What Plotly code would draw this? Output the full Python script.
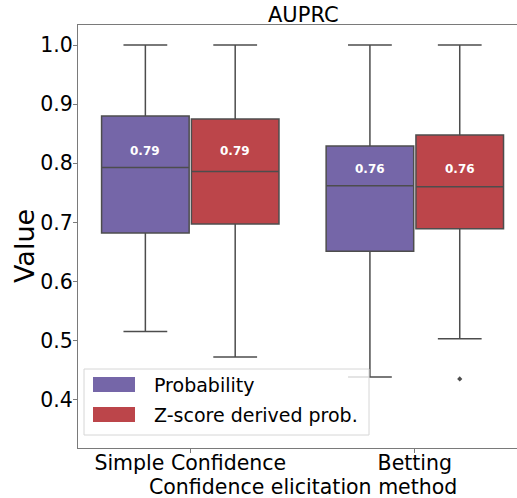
import plotly.graph_objects as go

# ---- data -------------------------------------------------------------
methods = ["Simple Confidence", "Betting"]
series = ["Probability", "Z-score derived prob."]
colors = ["#7566A8", "#BC454A"]

prob_lower = [0.515, 0.438]
prob_q1 = [0.682, 0.651]
prob_median = [0.793, 0.762]
prob_q3 = [0.880, 0.829]
prob_upper = [1.0, 1.0]

z_lower = [0.472, 0.503]
z_q1 = [0.697, 0.689]
z_median = [0.786, 0.760]
z_q3 = [0.875, 0.848]
z_upper = [1.0, 1.0]
z_outliers = [[], [0.435]]

y_ticks = [0.4, 0.5, 0.6, 0.7, 0.8, 0.9, 1.0]

# ---- layout constants (pixels) -----------------------------------------
W, H = 517, 498
L, R, T, B = 78, 0, 25, 50
BOX_W = 0.39
OFFSETS = [-0.2, 0.2]
LINE = "#4d4d4d"
AXIS = "#7a7a7a"
FONT = "DejaVu Sans"
TICK_SIZE = 20.5

def px_x(p):
    return (p - L) / (W - L - R)

def px_y(p):
    return (H - B - p) / (H - T - B)

stats = [
    dict(lower=prob_lower, q1=prob_q1, med=prob_median, q3=prob_q3, upper=prob_upper),
    dict(lower=z_lower, q1=z_q1, med=z_median, q3=z_q3, upper=z_upper),
]

fig = go.Figure()
for j, (name, s) in enumerate(zip(series, stats)):
    fig.add_trace(go.Box(
        name=name,
        x=[i + OFFSETS[j] for i in range(len(methods))],
        q1=s["q1"], median=s["med"], q3=s["q3"],
        lowerfence=s["lower"], upperfence=s["upper"],
        width=BOX_W, whiskerwidth=0.5,
        fillcolor=colors[j],
        line=dict(color=LINE, width=1.5),
        boxpoints=False, showlegend=False,
    ))

# fliers
ox, oy = [], []
for i, pts in enumerate(z_outliers):
    for v in pts:
        ox.append(i + OFFSETS[1])
        oy.append(v)
fig.add_trace(go.Scatter(x=ox, y=oy, mode="markers", showlegend=False,
                         marker=dict(symbol="diamond", size=4, color=LINE)))

# median value labels, placed just above the higher median of each group
annotations = []
for i in range(len(methods)):
    top = max(prob_median[i], z_median[i])
    for j, s in enumerate(stats):
        annotations.append(dict(
            x=i + OFFSETS[j], y=top + 0.028, xref="x", yref="y",
            text=f"<b>{s['med'][i]:.2f}</b>", showarrow=False,
            font=dict(family=FONT, size=12, color="white"),
        ))

# title, axis titles
annotations.append(dict(x=px_x(303), y=px_y(15), xref="paper", yref="paper",
                        text="AUPRC", showarrow=False, xanchor="center", yanchor="middle",
                        font=dict(family=FONT, size=21, color="black")))
annotations.append(dict(x=px_x(24.5), y=px_y(246.5), xref="paper", yref="paper",
                        text="Value", textangle=-90, showarrow=False,
                        xanchor="center", yanchor="middle",
                        font=dict(family=FONT, size=27, color="black")))
annotations.append(dict(x=px_x(302.5), y=px_y(486.5), xref="paper", yref="paper",
                        text="Confidence elicitation method", showarrow=False,
                        xanchor="center", yanchor="middle",
                        font=dict(family=FONT, size=TICK_SIZE, color="black")))

# legend drawn as a framed panel of swatches and labels
shapes = [dict(type="rect", xref="paper", yref="paper",
               x0=px_x(84), x1=px_x(369), y0=px_y(435), y1=px_y(369),
               line=dict(color="#d6d6d6", width=1),
               fillcolor="rgba(255,255,255,0.8)", layer="above")]
for k, (name, col) in enumerate(zip(series, colors)):
    yc = 384.5 + 30 * k
    shapes.append(dict(type="rect", xref="paper", yref="paper",
                       x0=px_x(93), x1=px_x(135), y0=px_y(yc + 7.5), y1=px_y(yc - 7.5),
                       line=dict(width=0), fillcolor=col, layer="above"))
    annotations.append(dict(x=px_x(152), y=px_y(yc), xref="paper", yref="paper",
                            text=name, showarrow=False, xanchor="left", yanchor="middle",
                            font=dict(family=FONT, size=19, color="black")))

fig.update_layout(
    width=W, height=H,
    margin=dict(l=L, r=R, t=T, b=B),
    paper_bgcolor="white", plot_bgcolor="white",
    font=dict(family=FONT, color="black"),
    shapes=shapes, annotations=annotations,
    xaxis=dict(
        range=[-0.5, 1.455], tickvals=list(range(len(methods))), ticktext=methods,
        showline=True, linecolor=AXIS, linewidth=1, mirror=True,
        ticks="outside", ticklen=4, tickcolor=AXIS, ticklabelstandoff=-8,
        showgrid=False, zeroline=False,
        tickfont=dict(family=FONT, size=TICK_SIZE, color="black"),
    ),
    yaxis=dict(
        range=[0.318, 1.034], tickvals=y_ticks, ticktext=[f"{v:.1f}" for v in y_ticks],
        showline=True, linecolor=AXIS, linewidth=1,
        ticks="outside", ticklen=4, tickcolor=AXIS, ticklabelstandoff=-4,
        showgrid=False, zeroline=False,
        tickfont=dict(family=FONT, size=TICK_SIZE, color="black"),
    ),
)

fig.write_html("out.html")
